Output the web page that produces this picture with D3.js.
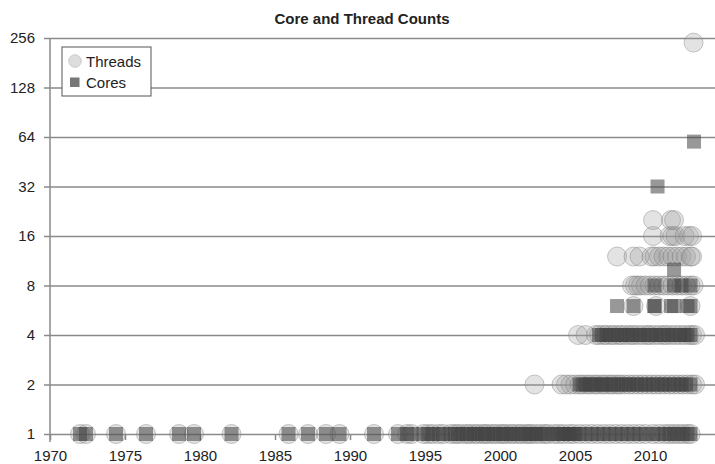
<!DOCTYPE html>
<html>
<head>
<meta charset="utf-8">
<script src="https://cdn.jsdelivr.net/npm/d3@7"></script>
<style>
  body { margin: 0; background: #fff; }
  svg { font-family: "Liberation Sans", Arial, sans-serif; }
  .tickLabel { font-size: 15px; fill: #222; }
  .title { font-size: 15px; font-weight: bold; fill: #222; }
  .legendText { font-size: 15px; fill: #222; }
</style>
</head>
<body>
<div id="container"></div>
<script>
// years of processors, grouped by thread count / core count
var threads1 = [1972.0, 1972.4, 1974.4, 1976.4, 1978.6, 1979.6, 1982.1, 1985.9, 1987.2, 1988.4, 1989.3, 1991.6,
  1993.2, 1993.8, 1994.1, 1994.9, 1995.2, 1995.5, 1995.9, 1996.2, 1996.7, 1997.0, 1997.2, 1997.5, 1997.8,
  1998.0, 1998.3, 1998.5, 1998.8, 1999.0, 1999.2, 1999.5, 1999.7, 2000.0, 2000.2, 2000.4, 2000.7, 2000.9,
  2001.2, 2001.4, 2001.7, 2001.9, 2002.1, 2002.4, 2002.7, 2003.0, 2003.2, 2003.6, 2003.9, 2004.2, 2004.6,
  2004.9, 2005.3, 2005.7, 2006.1, 2006.5, 2006.9, 2007.3, 2007.7, 2008.1, 2008.5, 2008.9, 2009.3, 2009.7,
  2010.2, 2010.6, 2011.0, 2011.3, 2011.6, 2011.9, 2012.2, 2012.5, 2012.7];
var threads2 = [2002.3, 2004.1, 2004.4, 2004.7, 2005.0, 2005.3, 2005.5, 2005.8, 2006.0, 2006.3, 2006.5, 2006.8,
  2007.0, 2007.3, 2007.5, 2007.8, 2008.0, 2008.3, 2008.6, 2008.9, 2009.2, 2009.5, 2009.8, 2010.1, 2010.4,
  2010.7, 2011.0, 2011.3, 2011.6, 2011.9, 2012.2, 2012.5, 2012.8, 2013.0];
var threads4 = [2005.2, 2005.7, 2006.4, 2006.6, 2006.9, 2007.1, 2007.4, 2007.6, 2007.9, 2008.1, 2008.4, 2008.7,
  2008.9, 2009.2, 2009.5, 2009.8, 2010.0, 2010.3, 2010.6, 2010.9, 2011.1, 2011.4, 2011.7, 2012.0, 2012.3,
  2012.6, 2012.8, 2013.0];
var threads6 = [2008.9, 2010.4, 2012.7];
var threads8 = [2008.8, 2009.0, 2009.2, 2009.4, 2009.7, 2010.0, 2010.3, 2010.6, 2010.9, 2011.2, 2011.5, 2011.8,
  2012.1, 2012.4, 2012.7, 2012.9];
var threads12 = [2007.8, 2008.9, 2009.3, 2010.1, 2010.3, 2010.6, 2010.9, 2011.2, 2011.5, 2011.8, 2012.1, 2012.4,
  2012.7, 2012.8];
var threads16 = [2010.2, 2011.3, 2011.5, 2011.7, 2012.3, 2012.6, 2012.8];
var threads20 = [2010.2, 2011.4, 2011.6];
var threads240 = [2012.9];

var cores1 = threads1.concat([2002.3, 2004.1, 2004.4, 2004.7, 2005.0]);
var cores2 = [2005.3, 2005.5, 2005.7, 2006.0, 2006.2, 2006.4, 2006.7, 2006.9, 2007.1, 2007.4, 2007.6, 2007.9,
  2008.1, 2008.4, 2008.6, 2008.9, 2009.1, 2009.4, 2009.7, 2009.9, 2010.2, 2010.5, 2010.8, 2011.0, 2011.3,
  2011.6, 2011.9, 2012.1, 2012.4, 2012.7];
var cores4 = [2006.6, 2006.8, 2007.1, 2007.3, 2007.6, 2007.8, 2008.1, 2008.3, 2008.6, 2008.8, 2009.1, 2009.3,
  2009.6, 2009.9, 2010.1, 2010.4, 2010.7, 2010.9, 2011.2, 2011.5, 2011.7, 2012.0, 2012.3, 2012.5, 2012.7];
var cores6 = [2007.8, 2008.9, 2010.3, 2010.3, 2011.4, 2011.6, 2012.5, 2012.7];
var cores8 = [2010.3, 2011.6, 2012.1, 2012.7];
var cores10 = [2011.6];
var cores32 = [2010.5];
var cores60 = [2012.93];

var yTicks = [1, 2, 4, 8, 16, 32, 64, 128, 256];
var xTicks = [1970, 1975, 1980, 1985, 1990, 1995, 2000, 2005, 2010];

function rows(list) {
  var out = [];
  list.forEach(function(r) {
    r[1].forEach(function(year) { out.push({ year: year, count: r[0] }); });
  });
  return out;
}

var threadData = rows([[1, threads1], [2, threads2], [4, threads4], [6, threads6], [8, threads8],
  [12, threads12], [16, threads16], [20, threads20], [240, threads240]]);
var coreData = rows([[1, cores1], [2, cores2], [4, cores4], [6, cores6], [8, cores8],
  [10, cores10], [32, cores32], [60, cores60]]);

var width = 715, height = 464;
var margin = { top: 38, right: 0, bottom: 30, left: 50 };

var x = d3.scaleLinear()
  .domain([1970, 2014.33])
  .range([margin.left, width - margin.right]);
var y = d3.scaleLog()
  .base(2)
  .domain([1, 256])
  .range([height - margin.bottom, margin.top]);

var chart = d3.select("#container")
  .append("svg")
    .attr("width", width)
    .attr("height", height);

chart.append("text")
  .classed("title", true)
  .attr("x", 362)
  .attr("y", 24)
  .attr("text-anchor", "middle")
  .text("Core and Thread Counts");

// gridlines + y axis
var yAxis = d3.axisLeft(y)
  .tickValues(yTicks)
  .tickFormat(d3.format("d"))
  .tickSizeOuter(0)
  .tickSizeInner(6);
var yAxisGroup = chart.append("g")
  .attr("transform", "translate(" + margin.left + ", 0)")
  .call(yAxis);
yAxisGroup.select(".domain").remove();
yAxisGroup.selectAll(".tick line")
  .attr("x1", -6)
  .attr("x2", width - margin.left)
  .attr("stroke", "#8a8a8a")
  .attr("stroke-width", 1.5);
yAxisGroup.selectAll(".tick text")
  .classed("tickLabel", true)
  .attr("x", -15)
  .attr("font-size", null)
  .attr("font-family", null);

var xAxis = d3.axisBottom(x)
  .tickValues(xTicks)
  .tickFormat(d3.format("d"))
  .tickSizeOuter(0)
  .tickSizeInner(6);
var xAxisGroup = chart.append("g")
  .attr("transform", "translate(0, " + y(1) + ")")
  .call(xAxis);
xAxisGroup.select(".domain").remove();
xAxisGroup.selectAll(".tick line")
  .attr("stroke", "#8a8a8a")
  .attr("stroke-width", 1.5);
xAxisGroup.selectAll(".tick text")
  .classed("tickLabel", true)
  .attr("y", 27)
  .attr("dy", 0)
  .attr("font-size", null)
  .attr("font-family", null);

chart.append("line")
  .attr("x1", margin.left)
  .attr("x2", margin.left)
  .attr("y1", y(256))
  .attr("y2", y(1) + 8)
  .attr("stroke", "#8a8a8a")
  .attr("stroke-width", 1.5);

// markers
var markerGroup = chart.append("g");
markerGroup.selectAll(".thread")
    .data(threadData)
  .enter().append("circle")
    .classed("thread", true)
    .attr("cx", function(d) { return x(d.year); })
    .attr("cy", function(d) { return y(d.count); })
    .attr("r", 9.5)
    .attr("fill", "#999")
    .attr("fill-opacity", 0.28)
    .attr("stroke", "#777")
    .attr("stroke-opacity", 0.4)
    .attr("stroke-width", 1);
var sq = 14;
markerGroup.selectAll(".core")
    .data(coreData)
  .enter().append("rect")
    .classed("core", true)
    .attr("x", function(d) { return x(d.year) - sq / 2; })
    .attr("y", function(d) { return y(d.count) - sq / 2; })
    .attr("width", sq)
    .attr("height", sq)
    .attr("fill", "#444")
    .attr("fill-opacity", 0.55);

// legend
var legend = chart.append("g")
  .attr("transform", "translate(62, 47)");
legend.append("rect")
  .attr("width", 89)
  .attr("height", 49)
  .attr("fill", "#fff")
  .attr("stroke", "#555")
  .attr("stroke-width", 1);
legend.append("circle")
  .attr("cx", 13)
  .attr("cy", 14)
  .attr("r", 6.3)
  .attr("fill", "#ddd")
  .attr("stroke", "#ccc");
legend.append("rect")
  .attr("x", 8)
  .attr("y", 30.5)
  .attr("width", 9.5)
  .attr("height", 9.5)
  .attr("fill", "#777");
legend.append("text")
  .classed("legendText", true)
  .attr("x", 24)
  .attr("y", 19.5)
  .text("Threads");
legend.append("text")
  .classed("legendText", true)
  .attr("x", 24)
  .attr("y", 41)
  .text("Cores");
</script>
</body>
</html>
